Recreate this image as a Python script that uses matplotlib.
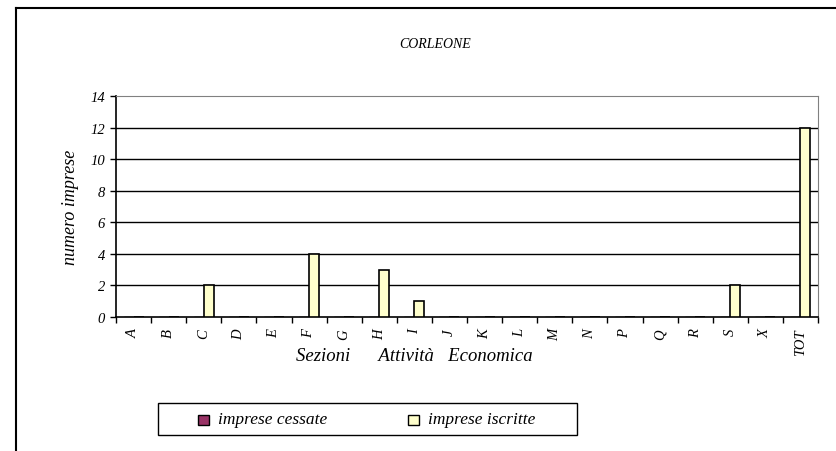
import matplotlib
matplotlib.use("Agg")
import matplotlib.pyplot as plt
import numpy as np
from matplotlib.patches import Rectangle
from matplotlib.lines import Line2D

categories = ["A", "B", "C", "D", "E", "F", "G", "H", "I", "J", "K", "L",
              "M", "N", "P", "Q", "R", "S", "X", "TOT"]
cessate = [0, 0, 0, 0, 0, 0, 0, 0, 0, 0, 0, 0, 0, 0, 0, 0, 0, 0, 0, 0]
iscritte = [0, 0, 2, 0, 0, 4, 0, 3, 1, 0, 0, 0, 0, 0, 0, 0, 0, 2, 0, 12]
yticks = [0, 2, 4, 6, 8, 10, 12, 14]
series_names = ["imprese cessate", "imprese iscritte"]
series_colors = ["#993366", "#FFFFCC"]

plt.rcParams['font.family'] = ['Liberation Serif', 'DejaVu Serif']
W, H = 836, 452
fig = plt.figure(figsize=(W / 100, H / 100), dpi=100)

ax = fig.add_axes([116 / W, (H - 318) / H, 702 / W, 221 / H])
x = np.arange(len(categories))
bw = 0.285
ax.bar(x - bw / 2, cessate, width=bw, color=series_colors[0], edgecolor="black", linewidth=1, zorder=3)
ax.bar(x + bw / 2, iscritte, width=bw, color=series_colors[1], edgecolor="black", linewidth=1.2, zorder=3)

ax.set_xlim(-0.5, len(categories) - 0.5)
ax.set_ylim(0, 14)
ax.set_yticks(yticks)
ax.set_yticklabels([str(v) for v in yticks], fontsize=10.5, style="italic")
ax.set_xticks(x)
ax.set_xticklabels(categories, rotation=90, fontsize=10.5, style="italic")
ax.set_xticks(np.arange(-0.5, len(categories), 1.0), minor=True)
ax.tick_params(axis="x", which="major", length=0, pad=8)
ax.tick_params(axis="x", which="minor", length=4, width=1, direction="out")
ax.tick_params(axis="y", length=4, width=1, direction="out", pad=4)
for v in yticks[1:-1]:
    ax.axhline(v, color="black", linewidth=1, zorder=1)
for s in ["top", "right"]:
    ax.spines[s].set_color("#808080")
for s in ["left", "bottom"]:
    ax.spines[s].set_color("black")
    ax.spines[s].set_linewidth(1.2)

ax.set_ylabel("numero imprese", fontsize=13, style="italic", labelpad=8)

fig.text(414 / W, 1 - 357 / H, "Sezioni      Attività   Economica", ha="center", va="center",
         fontsize=13.5, style="italic")
fig.text(435 / W, 1 - 44 / H, "CORLEONE", ha="center", va="center", fontsize=10, style="italic")

# outer frame (top and left)
fig.add_artist(Line2D([16 / W, 1], [1 - 9 / H, 1 - 9 / H], color="black", linewidth=1.5, transform=fig.transFigure))
fig.add_artist(Line2D([16 / W, 16 / W], [0, 1 - 9 / H], color="black", linewidth=1.5, transform=fig.transFigure))

# legend drawn manually
fig.add_artist(Rectangle((158 / W, 1 - 436 / H), 419 / W, 32 / H, facecolor="white",
                         edgecolor="black", linewidth=1, transform=fig.transFigure))
for mx, name, col in zip([198, 408], series_names, series_colors):
    fig.add_artist(Rectangle((mx / W, 1 - 426 / H), 11 / W, 10 / H, facecolor=col,
                             edgecolor="black", linewidth=1, transform=fig.transFigure))
    fig.text((mx + 20) / W, 1 - 420 / H, name, ha="left", va="center", fontsize=12.5, style="italic")

fig.savefig("out.png", dpi=100)
